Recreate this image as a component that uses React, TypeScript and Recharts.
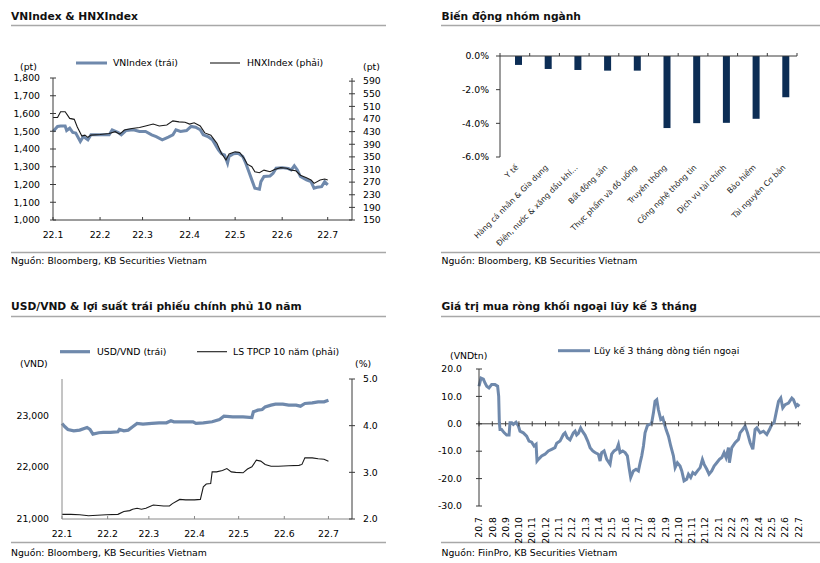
import React from 'react';
import { LineChart, Line, BarChart, Bar, XAxis, YAxis, ReferenceLine } from 'recharts';

const FONT = '"DejaVu Sans", Verdana, sans-serif';
const BLUE = '#6F89AC';
const NAVY = '#0C2D55';
const INK = '#1A1A1A';
const AXIS = '#3A3A3A';
const SOFT_AXIS = '#8A8A8A';
const RULE = '#A8A8A8';
const FS = 9.3;

// VNIndex & HNXIndex, x = days since 1 Jan 2022
const monthTicks = [0, 31, 59, 90, 120, 151, 181];
const monthLabels = ['22.1', '22.2', '22.3', '22.4', '22.5', '22.6', '22.7'];

const vnDays = [0, 3, 5, 8, 9, 11, 13, 15, 18, 20, 23, 25, 29, 37, 39, 43, 45, 48, 53, 57, 61, 65, 68, 72, 76, 79, 81, 84, 88, 91, 94, 97, 99, 102, 105, 109, 111, 113, 115, 116, 119, 122, 125, 127, 129, 131, 133, 136, 137, 139, 143, 145, 147, 151, 155, 157, 159, 161, 163, 167, 170, 172, 174, 177, 179, 181];
const vnValues = [1499, 1527, 1530, 1530, 1504, 1517, 1493, 1490, 1442, 1470, 1452, 1480, 1480, 1480, 1508, 1493, 1480, 1504, 1508, 1499, 1499, 1480, 1470, 1452, 1467, 1480, 1508, 1499, 1504, 1527, 1523, 1508, 1480, 1470, 1452, 1395, 1373, 1367, 1320, 1358, 1373, 1376, 1358, 1320, 1273, 1226, 1179, 1173, 1216, 1245, 1248, 1263, 1292, 1295, 1290, 1282, 1305, 1282, 1245, 1226, 1216, 1179, 1184, 1188, 1216, 1198];

const hnxDays = [0, 3, 5, 8, 11, 14, 16, 19, 21, 23, 25, 31, 37, 41, 44, 47, 52, 57, 61, 66, 70, 75, 79, 83, 87, 90, 93, 97, 100, 104, 108, 111, 114, 116, 120, 123, 126, 128, 131, 133, 136, 139, 143, 146, 150, 154, 157, 160, 163, 167, 170, 172, 176, 179, 181];
const hnxValues = [475, 475, 493, 493, 472, 469, 445, 416, 419, 412, 419, 421, 424, 430, 422, 435, 440, 443, 448, 454, 448, 451, 464, 461, 460, 454, 458, 448, 426, 419, 393, 361, 340, 359, 366, 364, 345, 327, 319, 303, 300, 308, 303, 310, 316, 314, 308, 306, 292, 284, 277, 266, 277, 280, 277];

// sector performance
const sectors = ['Y tế', 'Hàng cá nhân & Gia dụng', 'Điện, nước & xăng dầu khí…', 'Bất động sản', 'Thực phẩm và đồ uống', 'Truyền thông', 'Công nghệ thông tin', 'Dịch vụ tài chính', 'Bảo hiểm', 'Tài nguyên Cơ bản'];
const sectorChange = [-0.53, -0.77, -0.83, -0.87, -0.87, -4.28, -3.99, -3.97, -3.73, -2.45];

// USD/VND & 10y government bond yield
const usdDays = [0, 2, 4, 8, 12, 17, 19, 21, 25, 28, 33, 38, 39, 42, 45, 48, 51, 55, 61, 66, 71, 74, 76, 84, 89, 91, 96, 102, 107, 110, 116, 123, 129, 130, 133, 136, 138, 142, 145, 150, 154, 159, 162, 165, 170, 174, 178, 181];
const usdValues = [22843, 22778, 22727, 22701, 22714, 22765, 22727, 22637, 22663, 22669, 22669, 22682, 22727, 22701, 22714, 22778, 22843, 22830, 22843, 22855, 22855, 22894, 22875, 22875, 22875, 22843, 22855, 22875, 22920, 22984, 22971, 22971, 22958, 23067, 23099, 23112, 23163, 23196, 23215, 23215, 23196, 23196, 23176, 23228, 23240, 23260, 23260, 23292];
const yieldDays = [0, 6, 12, 18, 24, 30, 38, 42, 46, 48, 51, 54, 57, 62, 69, 73, 75, 80, 84, 90, 94, 96, 98, 101, 102, 105, 109, 112, 115, 118, 123, 126, 129, 132, 135, 138, 142, 147, 154, 161, 163, 165, 170, 174, 178, 181];
const yieldValues = [2.10, 2.10, 2.09, 2.07, 2.08, 2.09, 2.10, 2.16, 2.18, 2.21, 2.23, 2.21, 2.23, 2.30, 2.28, 2.28, 2.33, 2.42, 2.41, 2.41, 2.42, 2.69, 2.75, 2.76, 3.01, 3.01, 3.04, 3.08, 3.01, 3.00, 2.99, 3.07, 3.12, 3.26, 3.24, 3.17, 3.13, 3.13, 3.14, 3.15, 3.17, 3.31, 3.31, 3.29, 3.28, 3.24];

// foreign net buying, 3-month cumulative; x = months since Jul 2020
const flowTickLabels = ['20.7', '20.8', '20.9', '20.10', '20.11', '20.12', '21.1', '21.2', '21.3', '21.4', '21.5', '21.6', '21.7', '21.8', '21.9', '21.10', '21.11', '21.12', '22.1', '22.2', '22.3', '22.4', '22.5', '22.6', '22.7'];
const flowMonths = [0, 0.15, 0.33, 0.45, 0.58, 0.75, 0.95, 1.2, 1.4, 1.48, 1.53, 1.58, 1.7, 1.9, 2.08, 2.26, 2.33, 2.46, 2.58, 2.78, 2.96, 3.08, 3.33, 3.58, 3.76, 3.96, 4.14, 4.29, 4.36, 4.46, 4.71, 4.96, 5.21, 5.46, 5.71, 5.84, 6.09, 6.34, 6.47, 6.64, 6.84, 7.09, 7.22, 7.34, 7.47, 7.64, 7.77, 7.97, 8.17, 8.35, 8.55, 8.72, 8.97, 9.1, 9.22, 9.4, 9.6, 9.85, 9.97, 10.15, 10.35, 10.48, 10.6, 10.8, 10.98, 11.15, 11.3, 11.4, 11.6, 11.8, 11.98, 12.11, 12.23, 12.36, 12.48, 12.66, 12.86, 12.98, 13.11, 13.23, 13.36, 13.48, 13.66, 13.81, 13.91, 14.06, 14.24, 14.41, 14.61, 14.74, 14.91, 15.11, 15.24, 15.41, 15.61, 15.74, 15.91, 16.07, 16.24, 16.42, 16.62, 16.79, 16.92, 17.12, 17.29, 17.49, 17.67, 17.87, 18.07, 18.25, 18.42, 18.57, 18.75, 18.82, 19, 19.25, 19.5, 19.62, 19.82, 20, 20.18, 20.38, 20.58, 20.75, 20.88, 21.13, 21.38, 21.63, 21.83, 22.01, 22.18, 22.33, 22.51, 22.68, 22.83, 23.01, 23.26, 23.51, 23.63, 23.83, 23.93, 24.08];
const flowValues = [13.7, 16.7, 16.3, 14.9, 13.7, 13.1, 14.3, 14.3, 13.7, 10, 0.4, -2.1, -2.1, -3.3, -4.1, -4.1, 0.4, 0.4, -0.2, 0.6, -0.8, -2.7, -3.3, -4.5, -6.3, -6.7, -8.1, -7.5, -13.6, -13, -11.7, -11.1, -9.9, -9.3, -8.7, -7.1, -6.3, -3.9, -3.3, -5.1, -5.9, -3.3, -2.7, -4.1, -3.5, -1.5, -2.7, -4.1, -6.3, -8.7, -9.9, -10.5, -11.1, -13.6, -10.5, -9.9, -13, -14.8, -11.1, -9.9, -9.3, -7.5, -10.5, -9.9, -10.5, -11.7, -16.6, -19.6, -17.2, -16.6, -17.2, -14.2, -11.7, -8.1, -3.3, -0.6, -0.2, 0.4, 4, 8.2, 8.8, 5.2, 1.6, 2.2, 0.4, -2.1, -4.5, -8.1, -11.7, -16, -14.2, -15.4, -17.2, -20.8, -20.2, -18.4, -19.6, -17.8, -18.4, -17.2, -16, -13, -14.8, -16.6, -18.4, -17.2, -15.4, -14.2, -13, -12.3, -10.5, -12.3, -8.7, -14.2, -8.7, -6.9, -5.7, -3.3, -2.1, -0.8, -3.3, -6.9, -9.3, -2.1, -1.5, -3.3, -2.7, -3.9, -2.1, -0.2, 0.4, 4, 8.2, 9.4, 5.8, 7, 7.6, 9.4, 8.8, 6.4, 7, 6.4];

function mergeSeries(xKey: string, ...series: [string, number[], number[]][]) {
  const rows: Record<string, number>[] = [];
  series.forEach(([key, xs, vals]) => xs.forEach((x, i) => rows.push({ [xKey]: x, [key]: vals[i] })));
  return rows.sort((a, b) => a[xKey] - b[xKey]);
}

const indexRows = mergeSeries('d', ['vn', vnDays, vnValues], ['hnx', hnxDays, hnxValues]);
const fxRows = mergeSeries('d', ['usd', usdDays, usdValues], ['yld', yieldDays, yieldValues]);
const flowRows = flowMonths.map((m, i) => ({ m, v: flowValues[i] }));
const sectorRows = sectors.map((name, i) => ({ name, v: sectorChange[i] }));

const thousands = (v: number) => v.toLocaleString('en-US');

type YTickOpts = { side: 'left' | 'right'; gap: number; fmt: (v: number) => string; mark: 'cross' | 'out' | 'none'; color: string };

function yTick(o: YTickOpts) {
  return (props: any) => {
    const { x, y, payload } = props;
    const dir = o.side === 'left' ? -1 : 1;
    return (
      <g>
        {o.mark === 'cross' && <line x1={x - 3} x2={x + 3} y1={y} y2={y} stroke={o.color} />}
        {o.mark === 'out' && <line x1={x} x2={x + dir * 4} y1={y} y2={y} stroke={o.color} />}
        <text x={x + dir * o.gap} y={y} dy="0.35em" textAnchor={o.side === 'left' ? 'end' : 'start'}
          fontSize={FS} fontFamily={FONT} fill="#000">{o.fmt(payload.value)}</text>
      </g>
    );
  };
}

function monthTick(color: string) {
  return (props: any) => {
    const { x, y, payload } = props;
    return (
      <g>
        <line x1={x} x2={x} y1={y} y2={y - 3} stroke={color} />
        <text x={x} y={y + 15} dy="0.35em" textAnchor="middle" fontSize={FS} fontFamily={FONT} fill="#000">
          {monthLabels[monthTicks.indexOf(payload.value)]}
        </text>
      </g>
    );
  };
}

const SECTOR_PLOT_H = 101;
const SECTOR_BAND = 29.7;

const sectorTick = (props: any) => {
  const { x, y, payload, index } = props;
  const top = y - SECTOR_PLOT_H;
  return (
    <g>
      <line x1={x - SECTOR_BAND / 2} x2={x - SECTOR_BAND / 2} y1={top} y2={top - 3} stroke={AXIS} />
      {index === sectors.length - 1 && (
        <line x1={x + SECTOR_BAND / 2} x2={x + SECTOR_BAND / 2} y1={top} y2={top - 3} stroke={AXIS} />
      )}
      <text transform={`translate(${x + 2},${y + 9}) rotate(-45)`} textAnchor="end" dy="0.35em"
        fontSize={7.8} fontFamily={FONT} fill="#222">{payload.value}</text>
    </g>
  );
};

const sectorBar = (p: any) => {
  const h = Math.abs(p.height);
  const top = p.height < 0 ? p.y + p.height : p.y;
  return <rect x={p.x + 4} y={top} width={p.width} height={h} fill={NAVY} />;
};

const FLOW_PLOT_H = 137;

const flowTick = (props: any) => {
  const { x, y, payload } = props;
  const zeroY = y - (FLOW_PLOT_H * 30) / 50;
  return (
    <g>
      <line x1={x} x2={x} y1={zeroY - 2.5} y2={zeroY + 2.5} stroke={AXIS} />
      <text transform={`translate(${x},${y + 11}) rotate(-90)`} textAnchor="end" dy="0.35em"
        fontSize={FS} fontFamily={FONT} fill="#000">{flowTickLabels[payload.value]}</text>
    </g>
  );
};

function IndexChart() {
  return (
    <LineChart width={400} height={250} data={indexRows} margin={{ top: 78, right: 8, bottom: 10, left: 8 }}>
      <XAxis type="number" dataKey="d" domain={[0, 197]} ticks={monthTicks} height={20} interval={0}
        axisLine={{ stroke: AXIS }} tickLine={false} tickSize={0} tickMargin={0} tick={monthTick(AXIS)} />
      <YAxis yAxisId="left" width={45} domain={[1000, 1800]} ticks={[1000, 1100, 1200, 1300, 1400, 1500, 1600, 1700, 1800]}
        interval={0} axisLine={{ stroke: AXIS }} tickLine={false} tickSize={0} tickMargin={0}
        tick={yTick({ side: 'left', gap: 13, fmt: thousands, mark: 'cross', color: AXIS })} />
      <YAxis yAxisId="right" orientation="right" width={40} domain={[150, 600]}
        ticks={[150, 190, 230, 270, 310, 350, 390, 430, 470, 510, 550, 590]} interval={0}
        axisLine={{ stroke: AXIS }} tickLine={false} tickSize={0} tickMargin={0}
        tick={yTick({ side: 'right', gap: 11, fmt: String, mark: 'cross', color: AXIS })} />
      <Line yAxisId="left" dataKey="vn" stroke={BLUE} strokeWidth={3} dot={false} connectNulls isAnimationActive={false} />
      <Line yAxisId="right" dataKey="hnx" stroke={INK} strokeWidth={1.1} dot={false} connectNulls isAnimationActive={false} />
    </LineChart>
  );
}

function SectorChart() {
  return (
    <BarChart width={410} height={250} data={sectorRows} margin={{ top: 56, right: 23, bottom: 13, left: 40 }}>
      <XAxis dataKey="name" height={80} interval={0} axisLine={false} tickLine={false} tickSize={0} tickMargin={0} tick={sectorTick} />
      <YAxis width={50} domain={[-6, 0]} ticks={[-6, -4, -2, 0]} interval={0}
        axisLine={{ stroke: AXIS }} tickLine={false} tickSize={0} tickMargin={0}
        tick={yTick({ side: 'left', gap: 11, fmt: (v) => `${v.toFixed(1)}%`, mark: 'out', color: AXIS })} />
      <ReferenceLine y={0} stroke={AXIS} />
      <Bar dataKey="v" barSize={7} shape={sectorBar} isAnimationActive={false} />
    </BarChart>
  );
}

function FxChart() {
  return (
    <LineChart width={410} height={260} data={fxRows} margin={{ top: 89, right: 18, bottom: 11, left: 12 }}>
      <XAxis type="number" dataKey="d" domain={[0, 197]} ticks={monthTicks} height={20} interval={0}
        axisLine={{ stroke: SOFT_AXIS }} tickLine={false} tickSize={0} tickMargin={0} tick={monthTick(SOFT_AXIS)} />
      <YAxis yAxisId="left" width={50} domain={[21000, 23700]} ticks={[21000, 22000, 23000]} interval={0}
        axisLine={{ stroke: SOFT_AXIS }} tickLine={false} tickSize={0} tickMargin={0}
        tick={yTick({ side: 'left', gap: 13, fmt: thousands, mark: 'none', color: SOFT_AXIS })} />
      <YAxis yAxisId="right" orientation="right" width={40} domain={[2, 5]} ticks={[2, 3, 4, 5]} interval={0}
        axisLine={{ stroke: AXIS }} tickLine={false} tickSize={0} tickMargin={0}
        tick={yTick({ side: 'right', gap: 11, fmt: (v) => v.toFixed(1), mark: 'cross', color: AXIS })} />
      <Line yAxisId="left" dataKey="usd" stroke={BLUE} strokeWidth={3.2} dot={false} connectNulls isAnimationActive={false} />
      <Line yAxisId="right" dataKey="yld" stroke={INK} strokeWidth={1.1} dot={false} connectNulls isAnimationActive={false} />
    </LineChart>
  );
}

function FlowChart() {
  return (
    <LineChart width={410} height={260} data={flowRows} margin={{ top: 79, right: 19, bottom: 14, left: 19 }}>
      <XAxis type="number" dataKey="m" domain={[0, 24.2]} ticks={flowTickLabels.map((_, i) => i)} height={30} interval={0}
        axisLine={false} tickLine={false} tickSize={0} tickMargin={0} tick={flowTick} />
      <YAxis width={50} domain={[-30, 20]} ticks={[-30, -20, -10, 0, 10, 20]} interval={0}
        axisLine={{ stroke: AXIS }} tickLine={false} tickSize={0} tickMargin={0}
        tick={yTick({ side: 'left', gap: 17, fmt: (v) => v.toFixed(1), mark: 'cross', color: AXIS })} />
      <ReferenceLine y={0} stroke={AXIS} />
      <Line dataKey="v" stroke={BLUE} strokeWidth={3} dot={false} isAnimationActive={false} />
    </LineChart>
  );
}

function Frame() {
  const txt = { fontFamily: FONT, fontSize: FS, fill: '#000' } as const;
  const title = { fontFamily: FONT, fontSize: 10.7, fontWeight: 700, fill: '#111' } as const;
  return (
    <svg width={820} height={563} style={{ position: 'absolute', left: 0, top: 0 }}>
      {/* titles and rules */}
      <text x={11} y={19.5} {...title}>VNIndex &amp; HNXIndex</text>
      <text x={441.5} y={19.5} {...title}>Biến động nhóm ngành</text>
      <text x={11} y={309.5} {...title}>USD/VND &amp; lợi suất trái phiếu chính phủ 10 năm</text>
      <text x={441.5} y={309.5} {...title}>Giá trị mua ròng khối ngoại lũy kế 3 tháng</text>
      <line x1={11} x2={386} y1={25.5} y2={25.5} stroke={RULE} strokeWidth={1.5} />
      <line x1={441} x2={820} y1={25.5} y2={25.5} stroke={RULE} strokeWidth={1.5} />
      <line x1={11} x2={386} y1={316.5} y2={316.5} stroke={RULE} strokeWidth={1.5} />
      <line x1={441} x2={820} y1={316.5} y2={316.5} stroke={RULE} strokeWidth={1.5} />

      {/* footers */}
      <line x1={11} x2={386} y1={252.5} y2={252.5} stroke={RULE} strokeWidth={1.5} />
      <line x1={441} x2={820} y1={252.5} y2={252.5} stroke={RULE} strokeWidth={1.5} />
      <line x1={11} x2={386} y1={542.5} y2={542.5} stroke={RULE} strokeWidth={1.5} />
      <line x1={441} x2={820} y1={542.5} y2={542.5} stroke={RULE} strokeWidth={1.5} />
      <text x={11} y={263.5} {...txt}>Nguồn: Bloomberg, KB Securities Vietnam</text>
      <text x={441.5} y={263.5} {...txt}>Nguồn: Bloomberg, KB Securities Vietnam</text>
      <text x={11} y={555.5} {...txt}>Nguồn: Bloomberg, KB Securities Vietnam</text>
      <text x={441.5} y={555.5} {...txt}>Nguồn: FiinPro, KB Securities Vietnam</text>

      {/* legends */}
      <line x1={76} x2={107} y1={63} y2={63} stroke={BLUE} strokeWidth={3} />
      <text x={113} y={66.3} {...txt}>VNIndex (trái)</text>
      <line x1={210} x2={240} y1={63} y2={63} stroke={INK} strokeWidth={1.1} />
      <text x={247} y={66.3} {...txt}>HNXIndex (phải)</text>

      <line x1={60} x2={90} y1={351.7} y2={351.7} stroke={BLUE} strokeWidth={3.2} />
      <text x={97} y={355} {...txt}>USD/VND (trái)</text>
      <line x1={197} x2={227} y1={351.7} y2={351.7} stroke={INK} strokeWidth={1.1} />
      <text x={233} y={355} {...txt}>LS TPCP 10 năm (phải)</text>

      <line x1={558} x2={590} y1={350.7} y2={350.7} stroke={BLUE} strokeWidth={3} />
      <text x={594} y={354} {...txt}>Lũy kế 3 tháng dòng tiền ngoại</text>

      {/* axis units */}
      <text x={20} y={70.3} {...txt}>(pt)</text>
      <text x={363} y={70.3} {...txt}>(pt)</text>
      <text x={20} y={367.3} {...txt}>(VND)</text>
      <text x={355} y={367.3} {...txt}>(%)</text>
      <text x={450} y={359} {...txt}>(VNDtn)</text>
    </svg>
  );
}

export default function App() {
  return (
    <div style={{ position: 'absolute', left: 0, top: 0, width: 820, height: 563, background: '#fff', overflow: 'hidden', fontFamily: FONT }}>
      <Frame />
      <div style={{ position: 'absolute', left: 0, top: 0 }}><IndexChart /></div>
      <div style={{ position: 'absolute', left: 410, top: 0 }}><SectorChart /></div>
      <div style={{ position: 'absolute', left: 0, top: 290 }}><FxChart /></div>
      <div style={{ position: 'absolute', left: 410, top: 290 }}><FlowChart /></div>
    </div>
  );
}
